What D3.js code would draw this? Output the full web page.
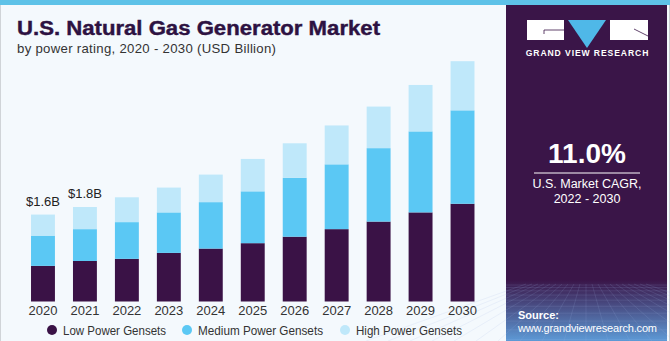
<!DOCTYPE html>
<html><head><meta charset="utf-8">
<script src="https://cdn.jsdelivr.net/npm/d3@7"></script>
<style>html,body{margin:0;padding:0;background:#fff;}svg{display:block;}</style>
</head><body>
<svg id="c" width="670" height="341"></svg>
<script>
const years = ["2020","2021","2022","2023","2024","2025","2026","2027","2028","2029","2030"];
const lowPower    = [0.66,0.75,0.79,0.90,0.98,1.08,1.20,1.34,1.48,1.65,1.81];
const mediumPower = [0.56,0.59,0.68,0.75,0.86,0.96,1.09,1.20,1.36,1.50,1.73];
const highPower   = [0.39,0.41,0.46,0.46,0.51,0.60,0.64,0.72,0.77,0.86,0.91];
const seriesNames = ["Low Power Gensets","Medium Power Gensets","High Power Gensets"];
const seriesColors = ["#3a1246","#5bc8f4","#bfe8fa"];
const valueLabels = [{year:"2020", text:"$1.6B"},{year:"2021", text:"$1.8B"}];

const svg = d3.select("#c");
const font = "Liberation Sans, Arial, sans-serif";

// backgrounds
svg.append("rect").attr("x",0).attr("y",0).attr("width",670).attr("height",341).attr("fill","#f4f9fd");
svg.append("rect").attr("x",0).attr("y",0).attr("width",1).attr("height",341).attr("fill","#d0d4d8");
svg.append("rect").attr("x",669).attr("y",0).attr("width",1).attr("height",341).attr("fill","#c8ccd0");

// right panel
const defs = svg.append("defs");
const g = defs.append("linearGradient").attr("id","pg").attr("x1",0).attr("y1",0).attr("x2",0).attr("y2",1);
g.append("stop").attr("offset","0%").attr("stop-color","#3a1548");
g.append("stop").attr("offset","100%").attr("stop-color","#5d9ad6");
svg.append("rect").attr("x",506).attr("y",0).attr("width",161).attr("height",341).attr("fill","#3a1548");
svg.append("rect").attr("x",506).attr("y",280).attr("width",161).attr("height",61).attr("fill","url(#pg)");
const gridG = svg.append("g").attr("stroke","#9fb8e6").attr("stroke-opacity",0.25).attr("stroke-width",0.6);
for (let i=0;i<12;i++){ const yy = 285 + i*i*0.45 + i*2; gridG.append("line").attr("x1",506).attr("x2",667).attr("y1",yy).attr("y2",yy); }
for (let i=-10;i<=10;i++){ gridG.append("line").attr("x1",586+i*6).attr("y1",284).attr("x2",586+i*22).attr("y2",341); }

// top strip
svg.append("rect").attr("x",0).attr("y",0).attr("width",670).attr("height",5).attr("fill","#5ec2e8");

// logo
svg.append("rect").attr("x",527).attr("y",20).attr("width",37).attr("height",20).attr("fill","#ffffff");
svg.append("path").attr("d","M544,34 V30 H564").attr("stroke","#3a1548").attr("stroke-width",0.8).attr("fill","none");
svg.append("path").attr("d","M568,20 L606,20 L587,48 Z").attr("fill","#4fb8e8");
svg.append("rect").attr("x",610).attr("y",20).attr("width",38).attr("height",20).attr("fill","#ffffff");
svg.append("path").attr("d","M634,29 L648,36").attr("stroke","#3a1548").attr("stroke-width",0.8);
svg.append("text").attr("x",587.5).attr("y",55.5).attr("text-anchor","middle").attr("font-family",font)
  .attr("font-weight","bold").attr("font-size",8.6).attr("letter-spacing",0.9).attr("fill","#ffffff").text("GRAND VIEW RESEARCH");

svg.append("text").attr("x",587).attr("y",163).attr("text-anchor","middle").attr("font-family",font)
  .attr("font-weight","bold").attr("font-size",28).attr("fill","#ffffff").text("11.0%");
svg.append("line").attr("x1",534).attr("x2",640).attr("y1",173).attr("y2",173).attr("stroke","#ffffff").attr("stroke-width",1);
svg.append("text").attr("x",587).attr("y",188).attr("text-anchor","middle").attr("font-family",font)
  .attr("font-size",12.5).attr("fill","#ffffff").text("U.S. Market CAGR,");
svg.append("text").attr("x",587).attr("y",203).attr("text-anchor","middle").attr("font-family",font)
  .attr("font-size",12.5).attr("fill","#ffffff").text("2022 - 2030");
svg.append("text").attr("x",518).attr("y",319).attr("font-family",font).attr("font-weight","bold")
  .attr("font-size",11).attr("fill","#ffffff").text("Source:");
svg.append("text").attr("x",518).attr("y",332).attr("font-family",font)
  .attr("font-size",11).attr("fill","#ffffff").attr("textLength",139).text("www.grandviewresearch.com");

// title
svg.append("text").attr("x",17).attr("y",35).attr("font-family",font).attr("font-weight","900")
  .attr("font-size",20).attr("fill","#2d1242").attr("stroke","#2d1242").attr("stroke-width",0.4)
  .attr("textLength",363).attr("lengthAdjust","spacingAndGlyphs")
  .text("U.S. Natural Gas Generator Market");
svg.append("text").attr("x",17).attr("y",53).attr("font-family",font)
  .attr("font-size",13.2).attr("fill","#333333").attr("textLength",259)
  .text("by power rating, 2020 - 2030 (USD Billion)");

// chart
const x = d3.scaleBand().domain(years).range([22,483.5]).paddingInner(0.43).paddingOuter(0.215);
const y = d3.scaleLinear().domain([0,5]).range([301.5,31.5]);

const table = years.map((yr,i)=>({year:yr, low:lowPower[i], medium:mediumPower[i], high:highPower[i]}));
const stack = d3.stack().keys(["low","medium","high"])(table);

svg.append("g").selectAll("g").data(stack).join("g")
  .attr("fill",(d,i)=>seriesColors[i])
  .selectAll("rect").data(d=>d).join("rect")
  .attr("x",d=>x(d.data.year)).attr("width",x.bandwidth())
  .attr("y",d=>y(d[1])).attr("height",d=>y(d[0])-y(d[1]));

const totals = {};
table.forEach(d=>totals[d.year]=d.low+d.medium+d.high);
svg.append("g").selectAll("text").data(valueLabels).join("text")
  .attr("x",d=>x(d.year)+x.bandwidth()/2).attr("y",d=>y(totals[d.year])-9)
  .attr("text-anchor","middle").attr("font-family",font).attr("font-size",13).attr("fill","#222")
  .text(d=>d.text);

const xAxis = svg.append("g").attr("transform","translate(0,301.5)")
  .call(d3.axisBottom(x).tickSize(0).tickPadding(4));
xAxis.select(".domain").remove();
xAxis.selectAll("text").attr("font-family",font).attr("font-size",13).attr("fill","#333");

// legend
const legendX = [52,187,345];
const legendW = [103,125,106];
const lg = svg.append("g").selectAll("g").data(seriesNames).join("g")
  .attr("transform",(d,i)=>`translate(${legendX[i]},330)`);
lg.append("circle").attr("r",5).attr("fill",(d,i)=>seriesColors[i]);
lg.append("text").attr("x",11).attr("y",4.5).attr("font-family",font).attr("font-size",12.5).attr("fill","#333")
  .attr("textLength",(d,i)=>legendW[i]).attr("lengthAdjust","spacingAndGlyphs").text(d=>d);
</script>
</body></html>
